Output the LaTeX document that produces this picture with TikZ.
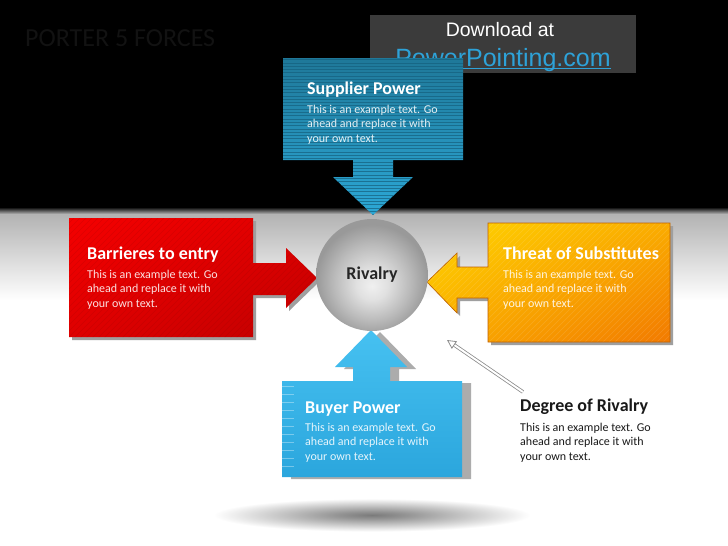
\documentclass[tikz,border=0pt]{standalone}
\usepackage{fontspec}
\setmainfont{Carlito}
\newfontfamily\arialfont{Liberation Sans}
\usetikzlibrary{arrows.meta,shadings}

\definecolor{supdark}{HTML}{1F7899}
\definecolor{suplight}{HTML}{2CA8D6}
\definecolor{supline}{HTML}{15607E}
\definecolor{redlight}{HTML}{F40000}
\definecolor{redmid}{HTML}{DE0000}
\definecolor{reddark}{HTML}{C00000}
\definecolor{yellowtop}{HTML}{FFD600}
\definecolor{orangemid}{HTML}{FAAC00}
\definecolor{orangedeep}{HTML}{F27A00}
\definecolor{buyertop}{HTML}{46C1F1}
\definecolor{buyerbot}{HTML}{2BA6DD}
\definecolor{linkblue}{HTML}{2EA2D8}
\definecolor{dlgray}{HTML}{3B3B3B}
\definecolor{titlegray}{HTML}{121212}

% the path's edge lies at 25bp of these shadings
\pgfdeclareradialshading{sphere}{\pgfpoint{0bp}{-5bp}}{color(0bp)=(black!6); color(7bp)=(black!12); color(17bp)=(black!27); color(25bp)=(black!40); color(50bp)=(black!42)}
\pgfdeclareradialshading{floorshadow}{\pgfpoint{0bp}{0bp}}{color(0bp)=(black!52); color(5bp)=(black!42); color(23bp)=(white); color(50bp)=(white)}

\newcommand\exampletext{This is an example text. Go\\ahead and replace it with\\your own text.}

\tikzset{
  forcehead/.style={anchor=base west, inner sep=0pt, text=white, font=\bfseries\fontsize{18}{21}\selectfont},
  forcebody/.style={anchor=base west, inner sep=0pt, align=left, text=white, text opacity=.88, font=\fontsize{12}{14.5}\selectfont},
  boxshadow/.style={fill=gray!75},
  stripe/.style={line width=.6pt},
}

\begin{document}
\begin{tikzpicture}[x=1pt, y=-1pt]
\useasboundingbox (0,0) rectangle (728,546);
% background
\fill[black] (0,0) rectangle (728,207);
\shade[top color=black, bottom color=gray!60] (0,207) rectangle (728,214);
\shade[top color=gray!60, bottom color=white] (0,214) rectangle (728,300);
\fill[white] (0,300) rectangle (728,546);

\node[anchor=base west, inner sep=0pt, text=titlegray, font=\fontsize{26}{30}\selectfont] (title) at (25,46) {PORTER 5 FORCES};

% download banner
\node[fill=dlgray, minimum width=266pt, minimum height=58pt, inner sep=0pt] (download) at (503,44) {};
\node[anchor=base, inner sep=0pt, text=white, font=\arialfont\fontsize{19.5}{22}\selectfont] (dltext) at (500,36) {Download at};
\node[anchor=base, inner sep=0pt, text=linkblue, font=\arialfont\fontsize{25}{28}\selectfont] (link) at (503,66) {PowerPointing.com};
\draw[linkblue, line width=1.2pt] ([yshift=-2.5pt]link.base west) -- ([yshift=-2.5pt]link.base east);

% supplier power
\def\supplierpath{(283,58) -- (463,58) -- (463,160) -- (393,160) -- (393,177) -- (413,177) -- (373,215) -- (333,177) -- (353,177) -- (353,160) -- (283,160) -- cycle}
\shade[top color=supdark, bottom color=suplight] \supplierpath;
\begin{scope}
  \clip \supplierpath;
  \foreach \y in {59.5,62.8,...,215} \draw[stripe, supline, opacity=.7] (283,\y) -- (463,\y);
\end{scope}

% barrieres to entry
\def\barrierpath{(69,218) -- (253,218) -- (253,263) -- (286,263) -- (286,248) -- (317,278) -- (286,308) -- (286,295) -- (253,295) -- (253,337) -- (69,337) -- cycle}
\fill[boxshadow, shift={(3,3)}] \barrierpath;
\shade[upper left=redlight, upper right=redmid, lower left=redmid, lower right=reddark] \barrierpath;
\begin{scope}
  \clip \barrierpath;
  \foreach \i in {0,6,...,380} \draw[stripe, red!55!black, opacity=.18] (\i-60,340) -- (\i+65,215);
\end{scope}

% threat of substitutes
\def\threatpath{(488,223) -- (670,223) -- (670,342) -- (488,342) -- (488,298) -- (457,298) -- (457,313) -- (427,282) -- (457,253) -- (457,267) -- (488,267) -- cycle}
\fill[boxshadow, shift={(3,3)}] \threatpath;
\shade[upper left=yellowtop, upper right=orangemid, lower left=orangemid, lower right=orangedeep] \threatpath;
\begin{scope}
  \clip \threatpath;
  \foreach \i in {0,6,...,380} \draw[stripe, white, opacity=.12] (\i+300,345) -- (\i+425,220);
\end{scope}
\draw[orange!75!black, line width=.6pt] \threatpath;

% buyer power
\def\buyerpath{(282,381) -- (353,381) -- (353,367) -- (335,367) -- (371,330) -- (407,367) -- (390,367) -- (390,381) -- (462,381) -- (462,477) -- (282,477) -- cycle}
\fill[gray!65, shift={(9,2)}] \buyerpath;
\shade[top color=buyertop, bottom color=buyerbot] \buyerpath;
\foreach \y in {386,394,...,472} \draw[stripe, white, opacity=.35] (282,\y) -- (294,\y);

% floor shadow
\shade[shading=floorshadow] (372,515) ellipse (172 and 18);

% rivalry
\node[circle, minimum size=112pt, inner sep=0pt, shade, shading=sphere, text=black!85, font=\bfseries\fontsize{18}{21}\selectfont] (rivalry) at (372,275) {Rivalry};

% degree of rivalry
\coordinate (degtail) at (523,392);
\coordinate (degtip) at (447,340);
\draw[draw=black!45, double=white, double distance=2pt, line width=.8pt, -{Triangle[open, length=9pt, width=9pt]}] (degtail) -- (degtip);

\node[forcehead] (suphead) at (307,94) {Supplier Power};
\node[forcebody] (supbody) at (307,142) {\exampletext};
\node[forcehead] (barhead) at (87,259) {Barrieres to entry};
\node[forcebody] (barbody) at (87,307) {\exampletext};
\node[forcehead] (thrhead) at (503,259) {Threat of Substitutes};
\node[forcebody] (thrbody) at (503,307) {\exampletext};
\node[forcehead] (buyhead) at (305,413) {Buyer Power};
\node[forcebody] (buybody) at (305,460) {\exampletext};
\node[forcehead, text=black!90] (deghead) at (520,411) {Degree of Rivalry};
\node[forcebody, text=black!90, text opacity=1] (degbody) at (520,460) {\exampletext};
\end{tikzpicture}
\end{document}
